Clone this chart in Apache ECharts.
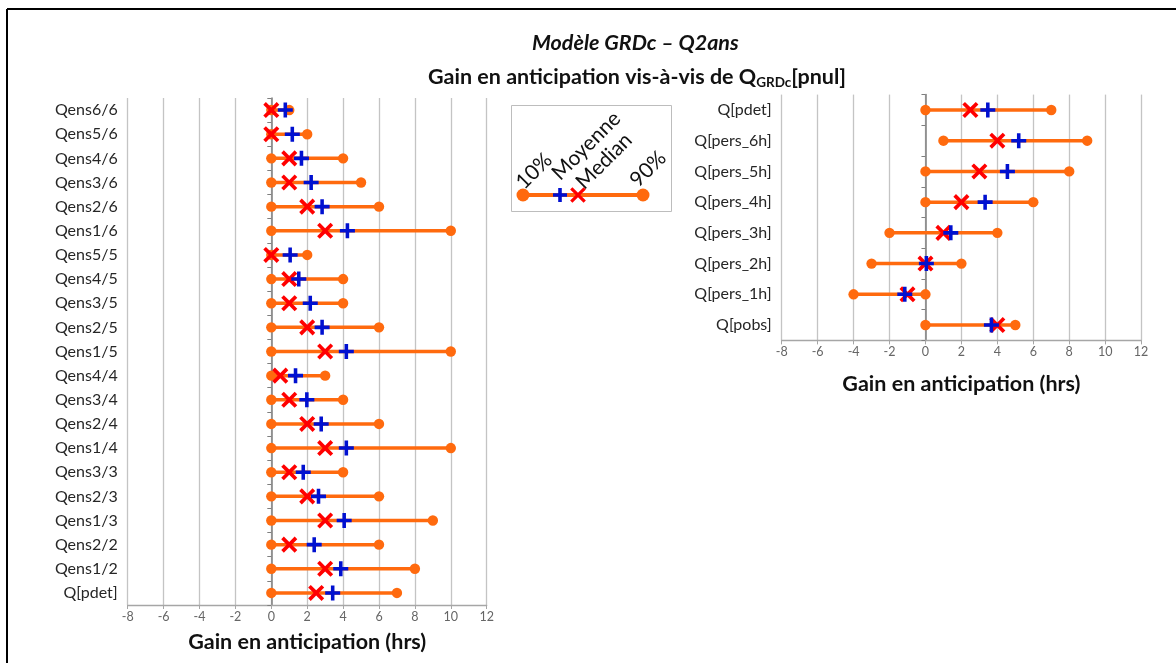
<!DOCTYPE html>
<html>
<head>
<meta charset="utf-8">
<script src="https://cdn.jsdelivr.net/npm/echarts@6/dist/echarts.min.js"></script>
<style>
html,body{margin:0;padding:0;background:#fff;}
#chart{width:1176px;height:663px;}
</style>
</head>
<body>
<div id="chart"></div>
<script>
// ---------- data ----------
const leftCats = ['Qens6/6','Qens5/6','Qens4/6','Qens3/6','Qens2/6','Qens1/6','Qens5/5','Qens4/5','Qens3/5','Qens2/5','Qens1/5','Qens4/4','Qens3/4','Qens2/4','Qens1/4','Qens3/3','Qens2/3','Qens1/3','Qens2/2','Qens1/2','Q[pdet]'];
const leftP10 = [0,0,0,0,0,0,0,0,0,0,0,0,0,0,0,0,0,0,0,0,0];
const leftP90 = [1,2,4,5,6,10,2,4,4,6,10,3,4,6,10,4,6,9,6,8,7];
const leftMedian = [0,0,1,1,2,3,0,1,1,2,3,0.5,1,2,3,1,2,3,1,3,2.5];
const leftMean = [0.78,1.17,1.68,2.22,2.83,4.24,1.05,1.53,2.17,2.83,4.18,1.35,1.98,2.78,4.18,1.78,2.63,4.06,2.39,3.87,3.42];

const rightCats = ['Q[pdet]','Q[pers_6h]','Q[pers_5h]','Q[pers_4h]','Q[pers_3h]','Q[pers_2h]','Q[pers_1h]','Q[pobs]'];
const rightP10 = [0,1,0,0,-2,-3,-4,0];
const rightP90 = [7,9,8,6,4,2,0,5];
const rightMedian = [2.5,4,3,2,1,0,-1,4];
const rightMean = [3.47,5.19,4.56,3.32,1.41,0.05,-1.15,3.67];

const xMin = -8, xMax = 12, xStep = 2;
const legendLabels = ['10%','Moyenne','Median','90%'];
const axisTitle = 'Gain en anticipation (hrs)';

// ---------- styles ----------
const ORANGE = '#ff6a0e';
const RED = '#ff0000';
const BLUE = '#0010d0';
const FONT = 'Lato, "Open Sans", sans-serif';

function plusPath(t) { // 16x16 box, arm thickness t
  const a = 8 - t/2, b = 8 + t/2;
  return 'path://M'+a+',0H'+b+'V'+a+'H16V'+b+'H'+b+'V16H'+a+'V'+b+'H0V'+a+'H'+a+'Z';
}
function plusPoints(h, t) {
  return [[-t,-h],[t,-h],[t,-t],[h,-t],[h,t],[t,t],[t,h],[-t,h],[-t,t],[-h,t],[-h,-t],[-t,-t]];
}

function renderRange(params, api) {
  const cat = api.value(0), lo = api.value(1), hi = api.value(2);
  const a = api.coord([lo, cat]), b = api.coord([hi, cat]);
  return {type:'group', children:[
    {type:'line', shape:{x1:a[0],y1:a[1],x2:b[0],y2:b[1]}, style:{stroke:ORANGE, lineWidth:3.5}},
    {type:'circle', shape:{cx:a[0],cy:a[1],r:5.2}, style:{fill:ORANGE}},
    {type:'circle', shape:{cx:b[0],cy:b[1],r:5.2}, style:{fill:ORANGE}}
  ]};
}

function xAxisCfg(gi, gap) {
  return {
    type:'value', gridIndex:gi, min:xMin, max:xMax, interval:xStep,
    axisLine:{show:true, onZero:false, lineStyle:{color:'#a6a6a6', width:1.3}},
    axisTick:{show:true, length:4, lineStyle:{color:'#a6a6a6'}},
    axisLabel:{color:'#666', fontSize:12.5, fontFamily:FONT, margin:5},
    splitLine:{show:true, lineStyle:{color:'#c4c4c4', width:1.3}},
    name:axisTitle, nameLocation:'middle', nameGap:gap,
    nameTextStyle:{fontSize:21.5, fontWeight:'bold', color:'#111', fontFamily:FONT}
  };
}
function yLabelAxis(gi, cats) {
  return {
    type:'category', gridIndex:gi, data:cats, inverse:true, position:'left',
    axisLine:{show:false, onZero:false}, axisTick:{show:false}, splitLine:{show:false},
    axisLabel:{color:'#262626', fontSize:16, fontFamily:FONT, margin:10}
  };
}
function yLineAxis(gi, cats) {
  return {
    type:'category', gridIndex:gi, data:cats, inverse:true, position:'left',
    axisLine:{show:true, onZero:true, lineStyle:{color:'#7f7f7f', width:1.5}},
    axisTick:{show:true, length:4, lineStyle:{color:'#7f7f7f'}},
    axisLabel:{show:false}, splitLine:{show:false}
  };
}

function seriesFor(xi, yi, p10, p90, med, mean) {
  return [
    {type:'custom', xAxisIndex:xi, yAxisIndex:yi, renderItem:renderRange, z:2,
     encode:{x:[1,2], y:0},
     data:p10.map((v,i)=>[i, v, p90[i]])},
    {type:'scatter', xAxisIndex:xi, yAxisIndex:yi, z:3, symbol:plusPath(3.1), symbolSize:19, symbolRotate:45,
     itemStyle:{color:RED, opacity:1}, data:med.map((v,i)=>[v,i])},
    {type:'scatter', xAxisIndex:xi, yAxisIndex:yi, z:4, symbol:plusPath(3.8), symbolSize:15,
     itemStyle:{color:BLUE, opacity:1}, data:mean.map((v,i)=>[v,i])}
  ];
}

const chart = echarts.init(document.getElementById('chart'), null, {renderer:'canvas'});

const legendX0 = 523, legendX1 = 643, legendY = 195;
const legTxt = (i, x, y) => ({type:'text', x:x, y:y, rotation:Math.PI/4,
  style:{text:legendLabels[i], fontSize:21, fontFamily:FONT, fill:'#111', textAlign:'left', textVerticalAlign:'bottom'}, z:12});

const option = {
  backgroundColor:'#fff',
  animation:false,
  title:[{
    text:'Modèle GRDc – Q2ans',
    left:527, top:27,
    textStyle:{fontSize:21.5, fontWeight:'bold', fontStyle:'italic', color:'#111', fontFamily:FONT}
  },{
    text:'{b|Gain en anticipation vis-à-vis de Q}{s|GRDc}{b|[pnul]}',
    left:423, top:59,
    textStyle:{rich:{
      b:{fontSize:21.5, fontWeight:'bold', color:'#111', fontFamily:FONT, lineHeight:27},
      s:{fontSize:13.5, fontWeight:'bold', color:'#111', fontFamily:FONT, lineHeight:27, padding:[11,0,0,0]}
    }}
  }],
  grid:[
    {left:127.7, right:689.3, top:98, bottom:58},
    {left:781.7, right:34.9, top:94.6, bottom:322.6}
  ],
  xAxis:[xAxisCfg(0, 26), xAxisCfg(1, 33)],
  yAxis:[yLabelAxis(0,leftCats), yLineAxis(0,leftCats), yLabelAxis(1,rightCats), yLineAxis(1,rightCats)],
  series:[].concat(
    seriesFor(0,0,leftP10,leftP90,leftMedian,leftMean),
    seriesFor(1,2,rightP10,rightP90,rightMedian,rightMean)
  ),
  graphic:[
    // outer frame
    {type:'line', shape:{x1:7,y1:9,x2:1176,y2:9}, style:{stroke:'#000', lineWidth:2}, z:10},
    {type:'line', shape:{x1:7,y1:9,x2:7,y2:663}, style:{stroke:'#000', lineWidth:2}, z:10},
    // legend box
    {type:'rect', shape:{x:511.5,y:105.5,width:160,height:106}, style:{fill:'#fff', stroke:'#bdbdbd', lineWidth:1}, z:10},
    {type:'line', shape:{x1:legendX0,y1:legendY,x2:legendX1,y2:legendY}, style:{stroke:ORANGE, lineWidth:4}, z:11},
    {type:'circle', shape:{cx:legendX0,cy:legendY,r:6.5}, style:{fill:ORANGE}, z:11},
    {type:'circle', shape:{cx:legendX1,cy:legendY,r:6.5}, style:{fill:ORANGE}, z:11},
    {type:'polygon', x:560, y:195, shape:{points:plusPoints(7,1.8)}, style:{fill:BLUE}, z:12},
    {type:'polygon', x:578, y:195, rotation:Math.PI/4, shape:{points:plusPoints(9.5,1.6)}, style:{fill:RED}, z:12},
    legTxt(0, 527, 193),
    legTxt(1, 563, 184),
    legTxt(2, 587, 193),
    legTxt(3, 641, 191)
  ]
};
chart.setOption(option);
</script>
</body>
</html>
